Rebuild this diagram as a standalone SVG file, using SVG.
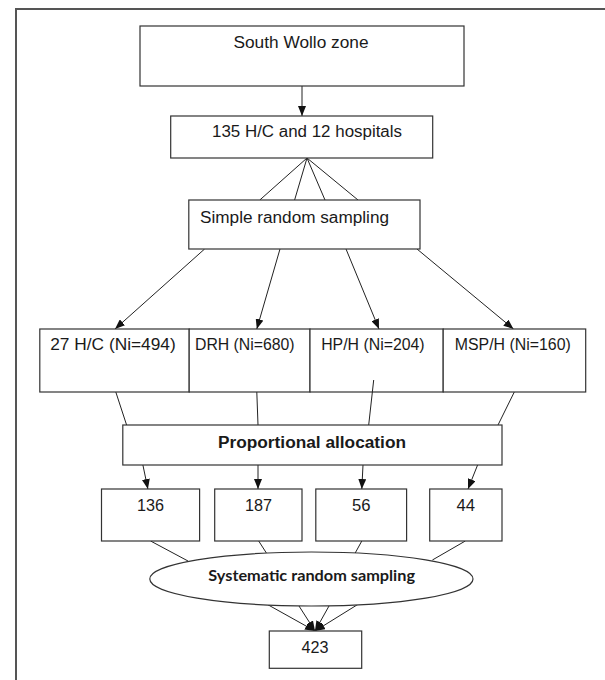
<svg xmlns="http://www.w3.org/2000/svg" width="605" height="680" viewBox="0 0 605 680">
<style>
.box{fill:#fff;stroke:#333;stroke-width:1.2}
.t{font-family:"Liberation Sans",Arial,sans-serif;font-size:16px;fill:#1a1a1a;text-anchor:middle}
.b{font-weight:bold}
.c{font-family:Lato,"Open Sans",sans-serif;font-size:16px;font-weight:bold;fill:#1a1a1a;text-anchor:middle}
.ln{stroke:#222;stroke-width:1;fill:none}
.ar{stroke:#222;stroke-width:1;fill:none;marker-end:url(#ah)}
.frame{stroke:#555;stroke-width:2;fill:none}
</style>
<defs>
<marker id="ah" markerUnits="userSpaceOnUse" markerWidth="10" markerHeight="8" refX="10" refY="4" orient="auto">
<path d="M0,0 L10,4 L0,8 z" fill="#111"/>
</marker>
</defs>
<rect width="605" height="680" fill="#fff"/>
<path class="frame" d="M16,681 L16,9 L606,9"/>

<g id="connectors">
<line class="ar" x1="302" y1="86" x2="302" y2="116"/>
<line class="ln" x1="307" y1="158" x2="259.8" y2="200"/>
<line class="ln" x1="307" y1="158" x2="294.6" y2="200"/>
<line class="ln" x1="307" y1="158" x2="325" y2="200"/>
<line class="ln" x1="307" y1="158" x2="358" y2="200"/>
<line class="ar" x1="204.6" y1="249" x2="115" y2="329"/>
<line class="ar" x1="280" y1="249" x2="256.8" y2="329"/>
<line class="ar" x1="346" y1="249" x2="379" y2="329"/>
<line class="ar" x1="417" y1="249" x2="513.5" y2="329"/>
<line class="ln" x1="115.8" y1="392" x2="126.6" y2="425"/>
<line class="ln" x1="256.8" y1="392" x2="258" y2="425"/>
<line class="ln" x1="514.3" y1="392" x2="498" y2="425"/>
<line class="ar" x1="142.9" y1="465" x2="147.9" y2="489"/>
<line class="ar" x1="258" y1="465" x2="258" y2="489"/>
<line class="ar" x1="363" y1="465" x2="361.8" y2="489"/>
<line class="ar" x1="477.6" y1="465" x2="468" y2="489"/>
<line class="ln" x1="150.6" y1="541" x2="188" y2="561"/>
<line class="ln" x1="258.7" y1="541" x2="266.4" y2="553"/>
<line class="ln" x1="361.8" y1="541" x2="355.2" y2="553"/>
<line class="ln" x1="465.3" y1="541" x2="432.4" y2="560"/>
<line class="ar" x1="267.5" y1="604.5" x2="315" y2="631"/>
<line class="ar" x1="299" y1="606" x2="315" y2="631"/>
<line class="ar" x1="329" y1="606" x2="315" y2="631"/>
<line class="ar" x1="358.5" y1="604" x2="315" y2="631"/>
</g>

<g id="south-wollo">
<rect class="box" x="140" y="26" width="324" height="60"/>
<text class="t" x="301" y="48" textLength="135" lengthAdjust="spacingAndGlyphs">South Wollo zone</text>
</g>
<g id="hc-hospitals">
<rect class="box" x="170.7" y="116" width="262" height="42"/>
<text class="t" x="307" y="137" textLength="190" lengthAdjust="spacingAndGlyphs">135 H/C and 12 hospitals</text>
</g>
<g id="simple-random">
<rect class="box" x="188.8" y="200" width="231.2" height="49"/>
<text class="t" x="294.5" y="223" textLength="189" lengthAdjust="spacingAndGlyphs">Simple random sampling</text>
</g>
<g id="hc27">
<rect class="box" x="39.8" y="329" width="149.4" height="63"/>
<text class="t" x="113" y="350" textLength="125.5" lengthAdjust="spacingAndGlyphs">27 H/C (Ni=494)</text>
</g>
<g id="drh">
<rect class="box" x="189.2" y="329" width="120.8" height="63"/>
<text class="t" x="244.8" y="350" textLength="99.6" lengthAdjust="spacingAndGlyphs">DRH (Ni=680)</text>
</g>
<g id="hph">
<rect class="box" x="310" y="329" width="133.2" height="63"/>
<text class="t" x="372.9" y="350" textLength="103.5" lengthAdjust="spacingAndGlyphs">HP/H (Ni=204)</text>
</g>
<g id="msph">
<rect class="box" x="443.2" y="329" width="142.5" height="63"/>
<text class="t" x="512.8" y="350" textLength="116" lengthAdjust="spacingAndGlyphs">MSP/H (Ni=160)</text>
</g>
<line class="ln" x1="373.7" y1="380" x2="368.7" y2="425"/>
<g id="proportional">
<rect class="box" x="122.8" y="425" width="379.2" height="40"/>
<text class="t b" x="312" y="447.5" textLength="188" lengthAdjust="spacingAndGlyphs">Proportional allocation</text>
</g>
<g id="n136">
<rect class="box" x="101.5" y="489" width="98.1" height="52"/>
<text class="t" x="150.6" y="511" textLength="27" lengthAdjust="spacingAndGlyphs">136</text>
</g>
<g id="n187">
<rect class="box" x="214.7" y="489" width="87.3" height="52"/>
<text class="t" x="258.5" y="511" textLength="27" lengthAdjust="spacingAndGlyphs">187</text>
</g>
<g id="n56">
<rect class="box" x="315.8" y="489" width="90.8" height="52"/>
<text class="t" x="361.3" y="511" textLength="18.5" lengthAdjust="spacingAndGlyphs">56</text>
</g>
<g id="n44">
<rect class="box" x="429.7" y="489" width="72.3" height="52"/>
<text class="t" x="465.7" y="511" textLength="18.5" lengthAdjust="spacingAndGlyphs">44</text>
</g>
<g id="systematic">
<ellipse class="box" cx="311.4" cy="579" rx="161.6" ry="27"/>
<text class="c" x="311.7" y="581" textLength="206.7" lengthAdjust="spacingAndGlyphs">Systematic random sampling</text>
</g>
<g id="total">
<rect class="box" x="269.3" y="631" width="92.4" height="37.3"/>
<text class="t" x="315" y="653" textLength="27" lengthAdjust="spacingAndGlyphs">423</text>
</g>
</svg>
